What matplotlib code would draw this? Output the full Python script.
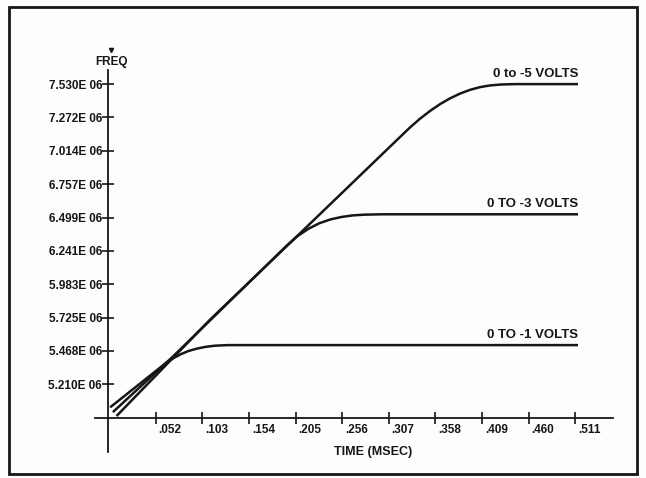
import matplotlib.pyplot as plt
import matplotlib.transforms as mtransforms
from matplotlib.patches import Rectangle
from matplotlib.lines import Line2D

plt.rcParams["font.family"] = ["Liberation Sans", "DejaVu Sans"]
plt.rcParams["font.weight"] = "bold"

# frequency values in units of 1E6 Hz, time in msec
t_5v = [0.009, 0.111, 0.206, 0.297, 0.330, 0.341, 0.352, 0.363, 0.374, 0.385,
        0.396, 0.407, 0.418, 0.430, 0.445, 0.514]
f_5v = [4.965, 5.707, 6.351, 6.970, 7.194, 7.262, 7.322, 7.375, 7.420, 7.457,
        7.486, 7.507, 7.520, 7.527, 7.530, 7.530]

t_3v = [0.005, 0.070, 0.150, 0.195, 0.207, 0.219, 0.231, 0.243, 0.255, 0.267, 0.280, 0.300, 0.514]
f_3v = [4.995, 5.420, 5.970, 6.280, 6.355, 6.412, 6.455, 6.484, 6.503, 6.515, 6.521, 6.524, 6.524]

t_1v = [0.002, 0.064, 0.072, 0.080, 0.088, 0.097, 0.106, 0.116, 0.130, 0.514]
f_1v = [5.032, 5.380, 5.415, 5.445, 5.468, 5.486, 5.499, 5.508, 5.513, 5.513]

curve_labels = ["0 to -5 VOLTS", "0 TO -3 VOLTS", "0 TO -1 VOLTS"]

x_ticks = [0.052, 0.103, 0.154, 0.205, 0.256, 0.307, 0.358, 0.409, 0.460, 0.511]
x_labels = [".052", ".103", ".154", ".205", ".256", ".307", ".358", ".409", ".460", ".511"]
y_ticks = [5.210, 5.468, 5.725, 5.983, 6.241, 6.499, 6.757, 7.014, 7.272, 7.530]
y_labels = ["%.3fE 06" % v for v in y_ticks]
y_origin = 4.952

W, H = 646, 478
ink = "#161616"

fig = plt.figure(figsize=(W / 100, H / 100), dpi=100)
fig.patch.set_facecolor("#fdfdfc")
ax = fig.add_axes([95 / W, 1 - 452 / H, (613 - 95) / W, (452 - 70) / H])
ax.set_facecolor("none")

for t, f, lab in zip([t_5v, t_3v, t_1v], [f_5v, f_3v, f_1v], curve_labels):
    ax.plot(t, f, color=ink, lw=1.8, solid_capstyle="butt", solid_joinstyle="round")
    ax.annotate(lab, xy=(t[-1], f[-1]), xytext=(0, 3), textcoords="offset points",
                ha="right", va="bottom", fontsize=9.5, color=ink)

ax.set_xlim(-0.01455, 0.5523)
ax.set_ylim(4.687, 7.639)

ax.spines["left"].set_position(("data", 0))
ax.spines["bottom"].set_position(("data", y_origin))
ax.spines["top"].set_visible(False)
ax.spines["right"].set_visible(False)
for s in ["left", "bottom"]:
    ax.spines[s].set_linewidth(1.3)
    ax.spines[s].set_color(ink)

ax.set_xticks(x_ticks)
ax.set_xticklabels(x_labels, fontsize=8.5, color=ink, ha="left")
ax.set_yticks(y_ticks)
ax.set_yticklabels(y_labels, fontsize=8.5, color=ink)
ax.tick_params(direction="inout", length=8, width=1.2, color=ink, pad=0.5)

offset = mtransforms.ScaledTranslation(2 / 72, 0, fig.dpi_scale_trans)
for lbl in ax.get_xticklabels():
    lbl.set_transform(lbl.get_transform() + offset)

fig.text(373 / W, 1 - 452 / H, "TIME (MSEC)", ha="center", va="center", fontsize=9, color=ink)
fig.text(111 / W, 1 - 62 / H, "FREQ", ha="center", va="center", fontsize=8.5, color=ink)
fig.add_artist(Line2D([111 / W], [1 - 50 / H], marker="v", ms=3, color=ink,
                      transform=fig.transFigure))

fig.add_artist(Rectangle((9 / W, 1 - 474 / H), (637 - 9) / W, (474 - 7) / H, fill=False,
                         lw=2, edgecolor=ink, transform=fig.transFigure))

plt.savefig("out.png", dpi=100)
